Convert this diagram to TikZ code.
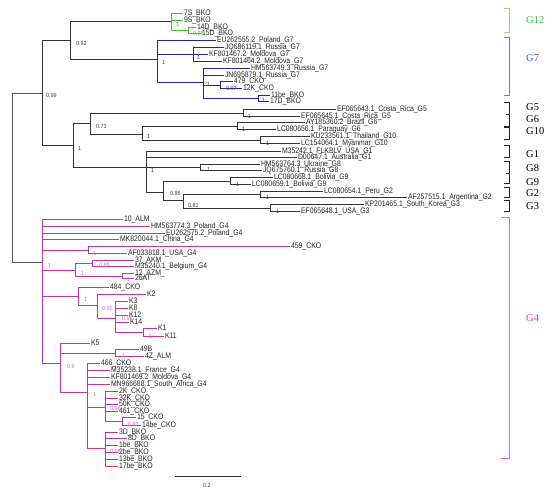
\documentclass[tikz,border=0pt]{standalone}
\usepackage{fontspec}
\setmainfont{Liberation Serif}
\newfontfamily\leaffont[FakeStretch=0.86]{Liberation Sans}
\newfontfamily\suppfont[FakeStretch=0.9]{Liberation Sans}
\newfontfamily\grpfont{Liberation Serif}
\definecolor{pk}{RGB}{204,51,153}
\definecolor{pklab}{RGB}{221,102,187}
\definecolor{bl}{RGB}{34,34,170}
\definecolor{bllab}{RGB}{51,51,187}
\definecolor{gr}{RGB}{51,204,51}
\definecolor{grbr}{RGB}{150,220,110}
\definecolor{blbr}{RGB}{70,140,220}
\definecolor{pkbr}{RGB}{255,85,221}
\definecolor{pkg}{RGB}{238,51,204}
\definecolor{blg}{RGB}{68,85,204}
\newcommand\leafnode[3]{\node[leaf] (#1) at (#2) {#3};}
\tikzset{
 leaf/.style={anchor=west, inner sep=0.8pt, font=\leaffont\fontsize{8}{8}\selectfont, text height=5.6pt, text depth=0.6pt, text=black!85},
 sup/.style={anchor=west, inner sep=0pt, font=\suppfont\fontsize{6}{6}\selectfont, text=black!75},
 edge/.style={line width=0.6pt, draw=black!80},
 rootedge/.style={line width=0.8pt, draw=black!65},
 gedge/.style={line width=0.6pt, draw=gr},
 bedge/.style={line width=0.6pt, draw=bl},
 pedge/.style={line width=0.6pt, draw=pk},
 brk/.style={line width=0.7pt},
 grp/.style={anchor=west, font=\grpfont\fontsize{10.5}{10.5}\selectfont, inner sep=0pt},
}
\begin{document}
\begin{tikzpicture}[x=1pt,y=-1pt]
\useasboundingbox (0,0) rectangle (550,490);
% internal nodes
\coordinate (R) at (12,178);
\coordinate (A) at (42,93);
\coordinate (B) at (70,40);
\coordinate (C) at (73,145);
\coordinate (G) at (171,21);
\coordinate (GS) at (188,30);
\coordinate (BL) at (157,59);
\coordinate (BS1) at (193,54);
\coordinate (BS2) at (203,82);
\coordinate (BS3) at (220,85);
\coordinate (BS4) at (258,98);
\coordinate (D) at (90,123);
\coordinate (E) at (146,167);
\coordinate (N5) at (243,113);
\coordinate (F) at (142,134);
\coordinate (N6) at (237,126);
\coordinate (N10) at (260,140);
\coordinate (N8) at (200,167);
\coordinate (H) at (163,192);
\coordinate (N9) at (230,181);
\coordinate (I) at (183,200);
\coordinate (N2) at (260,194);
\coordinate (N3) at (270,208);
\coordinate (P) at (42,262);
\coordinate (P1) at (88,250);
\coordinate (P2) at (75,270);
\coordinate (P2a) at (92,263);
\coordinate (P2b) at (122,276);
\coordinate (P3) at (78,296);
\coordinate (P3a) at (97,305);
\coordinate (P3b) at (115,318);
\coordinate (P3c) at (143,332);
\coordinate (P4) at (60,363);
\coordinate (P4a) at (115,353);
\coordinate (P4b) at (87,392);
\coordinate (P4c) at (105,407);
\coordinate (P4d) at (105,448);
\coordinate (P4e) at (122,421);
% leaves
\leafnode{g1}{183,13}{7S\_BKO}
\leafnode{g2}{183,20}{9S\_BKO}
\leafnode{g3}{196,27}{14D\_BKO}
\leafnode{g4}{201,33}{15D\_BKO}
\leafnode{b1}{216,40}{EU262555.2\_Poland\_G7}
\leafnode{b2}{224,47}{JQ686119.1\_Russia\_G7}
\leafnode{b3}{208,54}{KF801467.2\_Moldova\_G7}
\leafnode{b4}{222,61}{KF801464.2\_Moldova\_G7}
\leafnode{b5}{250,68}{HM563749.3\_Russia\_G7}
\leafnode{b6}{224,75}{JN695879.1\_Russia\_G7}
\leafnode{b7}{233,81}{479\_CKO}
\leafnode{b8}{242,88}{12K\_CKO}
\leafnode{b9}{270,95}{11be\_BKO}
\leafnode{b10}{269,101}{17D\_BKO}
\leafnode{k1}{336,109}{EF065643.1\_Costa\_Rica\_G5}
\leafnode{k2}{300,116}{EF065645.1\_Costa\_Rica\_G5}
\leafnode{k3}{305,122}{AY185360.2\_Brazil\_G6}
\leafnode{k4}{276,129}{LC080656.1\_Paraguay\_G6}
\leafnode{k5}{310,136}{KU233561.1\_Thailand\_G10}
\leafnode{k6}{300,143}{LC154064.1\_Myanmar\_G10}
\leafnode{k7}{281,151}{M35242.1\_FLKBLV\_USA\_G1}
\leafnode{k8}{297,157}{D00647.1\_Australia\_G1}
\leafnode{k9}{260,164}{HM563764.3\_Ukraine\_G8}
\leafnode{k10}{262,170}{JQ675760.1\_Russia\_G8}
\leafnode{k11}{273,177}{LC080668.1\_Bolivia\_G9}
\leafnode{k12}{251,184}{LC080659.1\_Bolivia\_G9}
\leafnode{k13}{323,191}{LC080654.1\_Peru\_G2}
\leafnode{k14}{407,197}{AF257515.1\_Argentina\_G2}
\leafnode{k15}{364,204}{KP201465.1\_South\_Korea\_G3}
\leafnode{k16}{300,211}{EF065648.1\_USA\_G3}
\leafnode{p1}{123,219}{10\_ALM}
\leafnode{p2}{150,226}{HM563774.3\_Poland\_G4}
\leafnode{p3}{165,233}{EU262575.2\_Poland\_G4}
\leafnode{p4}{119,239}{MK820044.1\_China\_G4}
\leafnode{p5}{290,246}{459\_CKO}
\leafnode{p6}{127,253}{AF033818.1\_USA\_G4}
\leafnode{p7}{134,260}{37\_AKM}
\leafnode{p8}{134,266}{M35240.1\_Belgium\_G4}
\leafnode{p9}{134,273}{12\_AZM\_}
\leafnode{p10}{134,278}{26AT}
\leafnode{p11}{109,287}{484\_CKO}
\leafnode{p12}{146,294}{K2}
\leafnode{p13}{128,301}{K3}
\leafnode{p14}{128,308}{K8}
\leafnode{p15}{128,315}{K12}
\leafnode{p16}{129,322}{K14}
\leafnode{p17}{157,328}{K1}
\leafnode{p18}{164,336}{K11}
\leafnode{p19}{90,343}{K5}
\leafnode{p20}{139,349}{49B}
\leafnode{p21}{144,356}{4Z\_ALM}
\leafnode{p22}{100,363}{466\_CKO}
\leafnode{p23}{110,370}{M35238.1\_France\_G4}
\leafnode{p24}{110,377}{KF801469.2\_Moldova\_G4}
\leafnode{p25}{110,384}{MN966688.1\_South\_Africa\_G4}
\leafnode{p26}{118,391}{2K\_CKO}
\leafnode{p27}{118,398}{32K\_CKO}
\leafnode{p28}{118,404}{50K\_CKO}
\leafnode{p29}{118,411}{461\_CKO}
\leafnode{p30}{136,417}{15\_CKO}
\leafnode{p31}{141,425}{14be\_CKO}
\leafnode{p32}{118,432}{3D\_BKO}
\leafnode{p33}{127,438}{8D\_BKO}
\leafnode{p34}{118,445}{1be\_BKO}
\leafnode{p35}{118,452}{2be\_BKO}
\leafnode{p36}{118,459}{13be\_BKO}
\leafnode{p37}{118,466}{17be\_BKO}
% edges
\draw[rootedge] (R) |- (A) (R) |- (P);
\draw[edge] (A) |- (B) (A) |- (C) (B) |- (G) (B) |- (BL);
\draw[gedge] (G) |- (g1.west) (G) |- (g2.west) (G) |- (GS) (GS) |- (g3.west) (GS) |- (g4.west);
\draw[bedge] (BL) |- (b1.west) (BL) |- (BS1) (BL) |- (BS2)
  (BS1) |- (b2.west) (BS1) |- (b3.west) (BS1) |- (b4.west)
  (BS2) |- (b5.west) (BS2) |- (b6.west) (BS2) |- (BS3) (BS2) |- (BS4)
  (BS3) |- (b7.west) (BS3) |- (b8.west) (BS4) |- (b9.west) (BS4) |- (b10.west);
\draw[edge] (C) |- (D) (C) |- (E) (D) |- (N5) (D) |- (F)
  (N5) |- (k1.west) (N5) |- (k2.west) (F) |- (N6) (F) |- (N10)
  (N6) |- (k3.west) (N6) |- (k4.west) (N10) |- (k5.west) (N10) |- (k6.west)
  (E) |- (k7.west) (E) |- (k8.west) (E) |- (N8) (E) |- (H)
  (N8) |- (k9.west) (N8) |- (k10.west) (H) |- (N9) (H) |- (I)
  (N9) |- (k11.west) (N9) |- (k12.west) (I) |- (N2) (I) |- (N3)
  (N2) |- (k13.west) (N2) |- (k14.west) (N3) |- (k15.west) (N3) |- (k16.west);
\draw[pedge] (P) |- (p1.west) (P) |- (p2.west) (P) |- (p3.west) (P) |- (p4.west)
  (P) |- (P1) (P) |- (P2) (P) |- (P3) (P) |- (P4)
  (P1) |- (p5.west) (P1) |- (p6.west)
  (P2) |- (P2a) (P2) |- (P2b) (P2a) |- (p7.west) (P2a) |- (p8.west) (P2b) |- (p9.west) (P2b) |- (p10.west)
  (P3) |- (p11.west) (P3) |- (P3a) (P3a) |- (p12.west) (P3a) |- (P3b)
  (P3b) |- (p13.west) (P3b) |- (p14.west) (P3b) |- (p15.west) (P3b) |- (p16.west) (P3b) |- (P3c)
  (P3c) |- (p17.west) (P3c) |- (p18.west)
  (P4) |- (p19.west) (P4) |- (P4a) (P4) |- (P4b) (P4a) |- (p20.west) (P4a) |- (p21.west)
  (P4b) |- (p22.west) (P4b) |- (p23.west) (P4b) |- (p24.west) (P4b) |- (p25.west) (P4b) |- (P4c) (P4b) |- (P4d)
  (P4c) |- (p26.west) (P4c) |- (p27.west) (P4c) |- (p28.west) (P4c) |- (p29.west) (P4c) |- (P4e)
  (P4e) |- (p30.west) (P4e) |- (p31.west)
  (P4d) |- (p32.west) (P4d) |- (p33.west) (P4d) |- (p34.west) (P4d) |- (p35.west) (P4d) |- (p36.west) (P4d) |- (p37.west);
% support values
\node[sup,text=gr] (sg1) at (176,24) {1};
\node[sup,text=gr] (sg2) at (193,33) {0.98};
\node[sup,text=bllab] (sb1) at (162,62) {1};
\node[sup,text=bllab] (sb2) at (197,57) {1};
\node[sup,text=bllab] (sb3) at (207,84) {1};
\node[sup,text=bllab] (sb4) at (226,88) {0.97};
\node[sup,text=bllab] (sb5) at (262,100) {1};
\node[sup] (s1) at (76,43) {0.92};
\node[sup] (s2) at (46,95) {0.99};
\node[sup] (s3) at (78,148) {1};
\node[sup] (s4) at (96,126) {0.73};
\node[sup] (s5) at (248,116) {1};
\node[sup] (s6) at (147,136) {1};
\node[sup] (s7) at (242,129) {1};
\node[sup] (s8) at (266,143) {1};
\node[sup] (s9) at (151,170) {1};
\node[sup] (s10) at (207,169) {1};
\node[sup] (s11) at (170,193) {0.86};
\node[sup] (s12) at (236,184) {1};
\node[sup] (s13) at (188,205) {0.81};
\node[sup] (s14) at (266,197) {1};
\node[sup] (s15) at (276,211) {1};
\node[sup,text=pklab] (sp1) at (48,265) {1};
\node[sup,text=pklab] (sp2) at (93,253) {1};
\node[sup,text=pklab] (sp3) at (81,273) {1};
\node[sup,text=pklab] (sp4) at (99,265) {0.89};
\node[sup,text=pklab] (sp5) at (127,279) {1};
\node[sup,text=pklab] (sp6) at (84,299) {1};
\node[sup,text=pklab] (sp7) at (102,308) {0.92};
\node[sup,text=pklab] (sp8) at (122,318) {0.96};
\node[sup,text=pklab] (sp9) at (149,336) {1};
\node[sup,text=pklab] (sp10) at (67,366) {0.9};
\node[sup,text=pklab] (sp11) at (122,355) {1};
\node[sup,text=pklab] (sp12) at (93,394) {1};
\node[sup,text=pklab] (sp13) at (110,408) {0.96};
\node[sup,text=pklab] (sp14) at (128,424) {0.97};
\node[sup,text=pklab] (sp15) at (110,451) {0.98};
% group brackets
\draw[brk,grbr] (504,8) -- (509,8) -- (509,32) -- (504,32);
\node[grp,text=gr] (G12) at (526,20) {G12};
\draw[brk,blbr] (504,37) -- (509,37) -- (509,95) -- (504,95);
\node[grp,text=blg] (G7) at (526,58) {G7};
\draw[brk,black!85] (504,102) -- (509,102) -- (509,126) -- (504,126) (506,114) -- (509,114);
\node[grp] (G5) at (526,107) {G5};
\node[grp] (G6) at (526,119) {G6};
\draw[brk,black!85] (504,127) -- (509,127) -- (509,139) -- (504,139);
\node[grp] (G10) at (526,131) {G10};
\draw[brk,black!85] (504,145) -- (509,145) -- (509,157) -- (504,157);
\node[grp] (G1) at (526,154) {G1};
\draw[brk,black!85] (504,161) -- (509,161) -- (509,183) -- (504,183) (506,173) -- (509,173);
\node[grp] (G8) at (526,168) {G8};
\node[grp] (G9) at (526,182) {G9};
\draw[brk,black!85] (504,187) -- (509,187) -- (509,197) -- (504,197);
\node[grp] (G2) at (526,193) {G2};
\draw[brk,black!85] (504,200) -- (509,200) -- (509,211) -- (504,211);
\node[grp] (G3) at (526,206) {G3};
\draw[brk,pkbr] (501,217) -- (509,217) -- (509,458) -- (501,458);
\node[grp,text=pkg] (G4) at (526,318) {G4};
% scale bar
\draw[line width=0.7pt,black!80] (175,476) -- (241,476);
\node[sup] (sc) at (203,485) {0.2};
\end{tikzpicture}
\end{document}
